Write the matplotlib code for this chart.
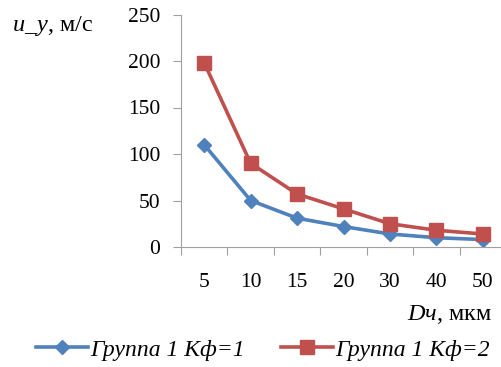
import matplotlib.pyplot as plt
from matplotlib.lines import Line2D

categories = ['5', '10', '15', '20', '30', '40', '50']
group1_kf1 = [110, 50, 31, 22, 14, 10, 8]
group1_kf2 = [198, 90, 57, 41, 25, 18, 14]

plt.rcParams['font.family'] = ['Liberation Serif', 'DejaVu Serif']
plt.rcParams['mathtext.fontset'] = 'custom'
plt.rcParams['mathtext.rm'] = 'Liberation Serif'
plt.rcParams['mathtext.it'] = 'Liberation Serif:italic'

fig = plt.figure(figsize=(5.01, 3.67), dpi=100)
ax = fig.add_axes([181/501, 1 - 247/367, 325/501, 232.5/367])

x = range(len(categories))
ax.plot(x, group1_kf1, color='#4F81BD', lw=2.6, marker='D', ms=7.5, label='Группа 1 Кф=1')
ax.plot(x, group1_kf2, color='#C0504D', lw=2.6, marker='s', ms=10, label='Группа 1 Кф=2')

ax.set_xlim(-0.5, len(categories) - 0.5)
ax.set_ylim(0, 250)
ax.set_yticks([0, 50, 100, 150, 200, 250])
ax.set_xticks([i - 0.5 for i in range(len(categories) + 1)], minor=False)
ax.set_xticklabels([])
ax.set_xticks(list(x), minor=True)
ax.set_xticklabels(categories, minor=True)
ax.tick_params(axis='x', which='minor', length=0, pad=19, labelsize=15.5)
ax.tick_params(axis='x', which='major', length=6, color='#A0A0A0', direction='out')
ax.tick_params(axis='y', length=6, color='#A0A0A0', labelsize=15.5, pad=9)

for s in ['top', 'right']:
    ax.spines[s].set_visible(False)
for s in ['left', 'bottom']:
    ax.spines[s].set_color('#A0A0A0')

fig.text(12/501, 1 - 26/367, r'$\mathit{u\_y}$, м/с', fontsize=17.5, va='center', ha='left')
fig.text(492/501, 1 - 314/367, r'$\mathit{Dч}$, мкм', fontsize=17.5, va='center', ha='right')

handles = [Line2D([], [], color='#4F81BD', lw=2.6, marker='D', ms=7.5),
           Line2D([], [], color='#C0504D', lw=2.6, marker='s', ms=10)]
fig.legend(handles, ['Группа 1 Кф=1', 'Группа 1 Кф=2'], loc='center',
           bbox_to_anchor=(0.525, 1 - 350/367), ncol=2, frameon=False,
           prop={'style': 'italic', 'size': 17}, handlelength=2.2,
           handletextpad=0.1, columnspacing=1.5)

fig.savefig('out.png', dpi=100)
